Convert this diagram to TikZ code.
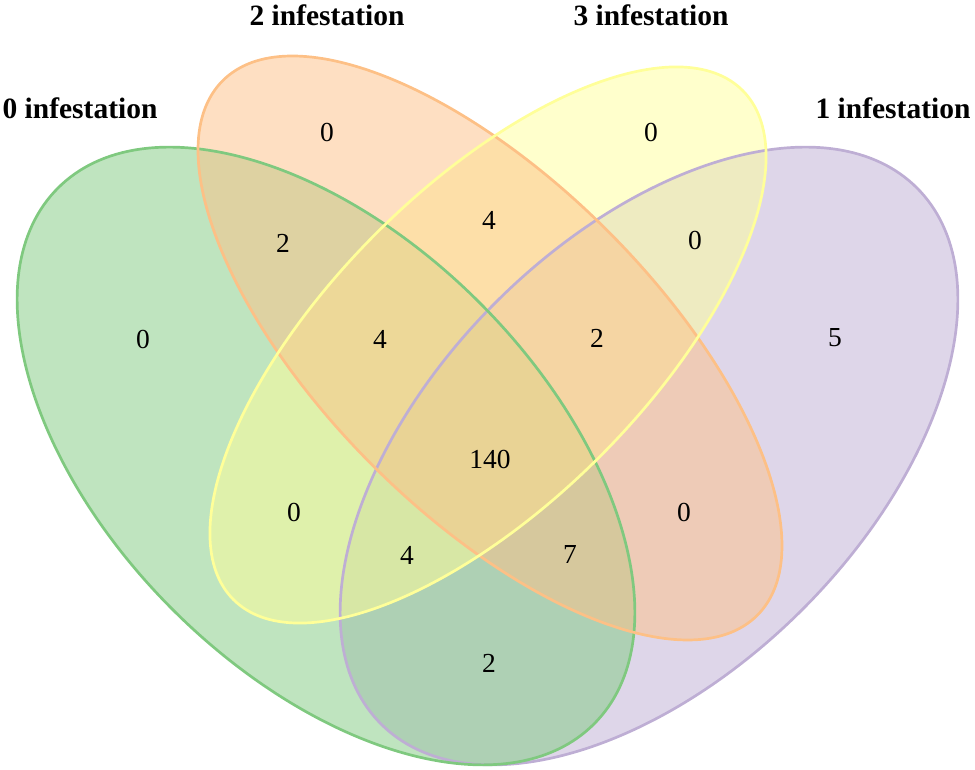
\documentclass[tikz,border=0pt]{standalone}
\usepackage{fontspec}
\setmainfont{Liberation Serif}
\definecolor{cgreen}{HTML}{7FC97F}
\definecolor{cpurple}{HTML}{BEAED4}
\definecolor{corange}{HTML}{FDC086}
\definecolor{cyellow}{HTML}{FFFF99}
\tikzset{
  setfill/.style={fill=#1, fill opacity=0.5, draw=none},
  setline/.style={draw=#1, line width=2.7pt, fill=none},
  num/.style={font=\fontsize{27.5}{30}\selectfont, inner sep=0pt},
  title/.style={font=\fontsize{29.5}{32}\selectfont\bfseries, inner sep=0pt}
}
\begin{document}
\begin{tikzpicture}[x=1pt,y=1pt]
\useasboundingbox (0,0) rectangle (975,770);
% fills
\path[setfill=cpurple, shift={(649,314)}, rotate=45] (0,0) ellipse [x radius=379, y radius=217];
\path[setfill=cgreen, shift={(326,314)}, rotate=-45] (0,0) ellipse [x radius=379, y radius=217];
\path[setfill=cyellow, shift={(488,425)}, rotate=45] (0,0) ellipse [x radius=360, y radius=158];
\path[setfill=corange, shift={(490,422)}, rotate=-45] (0,0) ellipse [x radius=378, y radius=166];
% outlines
\path[setline=cpurple, shift={(649,314)}, rotate=45] (0,0) ellipse [x radius=379, y radius=217];
\path[setline=cgreen, shift={(326,314)}, rotate=-45] (0,0) ellipse [x radius=379, y radius=217];
\path[setline=corange, shift={(490,422)}, rotate=-45] (0,0) ellipse [x radius=378, y radius=166];
\path[setline=cyellow, shift={(488,425)}, rotate=45] (0,0) ellipse [x radius=360, y radius=158];
% titles
\node[title] (t0) at (80,662) {0 infestation};
\node[title] (t2) at (327,755) {2 infestation};
\node[title] (t3) at (651,755) {3 infestation};
\node[title] (t1) at (893,662) {1 infestation};
% numbers
\node[num] (n1) at (327,637) {0};
\node[num] (n2) at (283,527) {2};
\node[num] (n3) at (143,431) {0};
\node[num] (n4) at (380,431) {4};
\node[num] (n5) at (489,550) {4};
\node[num] (n6) at (651,637) {0};
\node[num] (n7) at (695,529) {0};
\node[num] (n8) at (597,432) {2};
\node[num] (n9) at (835,432) {5};
\node[num] (n10) at (490,311) {140};
\node[num] (n11) at (294,258) {0};
\node[num] (n12) at (407,215) {4};
\node[num] (n13) at (570,215) {7};
\node[num] (n14) at (684,258) {0};
\node[num] (n15) at (489,107) {2};
\end{tikzpicture}
\end{document}
